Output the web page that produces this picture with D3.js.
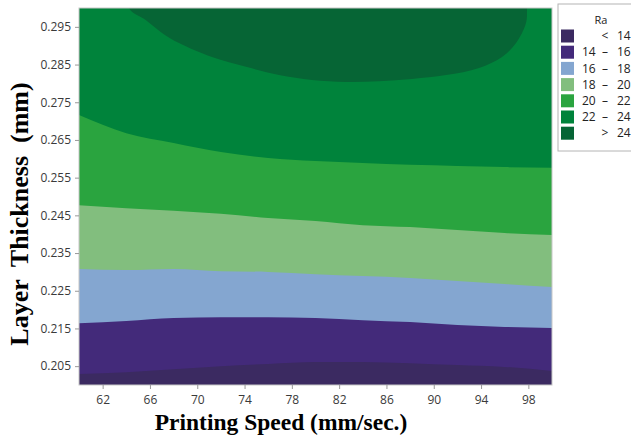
<!DOCTYPE html>
<html>
<head>
<meta charset="utf-8">
<script src="https://cdn.jsdelivr.net/npm/d3@7"></script>
<style>
  body { margin: 0; background: #fff; }
  .tick text { font-family: "Open Sans", "Noto Sans", sans-serif; font-size: 12px; fill: #3a3a3a; }
  .axis-title { font-family: "Liberation Serif", "Times New Roman", serif; font-weight: bold; fill: #000; white-space: pre; }
  .legend text { font-family: "Open Sans", "Noto Sans", sans-serif; font-size: 12px; fill: #222; }
</style>
</head>
<body>
<div id="chart"></div>
<script>
// Contour plot of Ra vs printing speed and layer thickness
// Boundaries: layer thickness of each contour level at the given speeds

let speeds = [60, 64, 68, 72, 76, 80, 84, 88, 92, 96, 100];

let level14 = [0.2029, 0.2034, 0.2042, 0.2050, 0.2056, 0.2061, 0.2061, 0.2058, 0.2053, 0.2048, 0.2037];
let level16 = [0.2164, 0.2170, 0.2178, 0.2180, 0.2180, 0.2178, 0.2172, 0.2167, 0.2159, 0.2154, 0.2151];
let level18 = [0.2308, 0.2305, 0.2308, 0.2302, 0.2300, 0.2294, 0.2289, 0.2284, 0.2276, 0.2268, 0.2260];
let level20 = [0.2477, 0.2469, 0.2462, 0.2454, 0.2443, 0.2435, 0.2424, 0.2419, 0.2411, 0.2403, 0.2398];
let level22 = [0.2716, 0.2668, 0.2642, 0.2618, 0.2602, 0.2594, 0.2589, 0.2584, 0.2581, 0.2578, 0.2576];

// the > 24 region is a closed lobe touching the top edge
let level24Speed = [64.23, 65.64, 67.02, 68.46, 71.25, 74.12, 76.91, 79.70, 82.58, 85.37, 88.16, 91.04, 93.83, 95.77, 96.96, 97.80, 97.89];
let level24Thick = [0.3000, 0.2968, 0.2934, 0.2907, 0.2870, 0.2844, 0.2822, 0.2809, 0.2804, 0.2806, 0.2812, 0.2822, 0.2841, 0.2870, 0.2907, 0.2960, 0.3000];

let legendLabels = [["", "<", "14"], ["14", "–", "16"], ["16", "–", "18"], ["18", "–", "20"],
                    ["20", "–", "22"], ["22", "–", "24"], ["", ">", "24"]];
let bandColors = ["#3b2a61", "#432a7a", "#84a6d0", "#82be7e", "#2aa43f", "#00833b", "#066535"];

let xTicks = [62, 66, 70, 74, 78, 82, 86, 90, 94, 98];
let yTicks = [0.205, 0.215, 0.225, 0.235, 0.245, 0.255, 0.265, 0.275, 0.285, 0.295];

////////////////////////////////////////////////////////////////////////
// Layout

let width = 631, height = 436;
let plotLeft = 79, plotRight = 552, plotTop = 8, plotBottom = 385;

let svg = d3.select("#chart")
  .append("svg")
  .attr("width", width)
  .attr("height", height);

let xScale = d3.scaleLinear().domain([60, 100]).range([plotLeft, plotRight]);
let yScale = d3.scaleLinear().domain([0.2, 0.3]).range([plotBottom, plotTop]);

svg.append("clipPath")
  .attr("id", "plot-clip")
  .append("rect")
  .attr("x", plotLeft).attr("y", plotTop)
  .attr("width", plotRight - plotLeft).attr("height", plotBottom - plotTop);

let plot = svg.append("g").attr("clip-path", "url(#plot-clip)");

// base band (< 14)
plot.append("rect")
  .attr("x", plotLeft).attr("y", plotTop)
  .attr("width", plotRight - plotLeft).attr("height", plotBottom - plotTop)
  .style("fill", bandColors[0]);

// each level: fill everything above the boundary with the next band's colour
let levels = [level14, level16, level18, level20, level22];

let area = d3.area()
  .x((d, i) => xScale(speeds[i]))
  .y0(yScale(0.3) - 2)
  .y1(d => yScale(d))
  .curve(d3.curveMonotoneX);

levels.forEach((lv, k) => {
  plot.append("path")
    .datum(lv)
    .attr("d", area)
    .style("fill", bandColors[k + 1]);
});

// top lobe (> 24)
let lobe = level24Speed.map((s, i) => [s, level24Thick[i]]);
lobe.push([level24Speed[level24Speed.length - 1], 0.31]);
lobe.push([level24Speed[0], 0.31]);

plot.append("path")
  .datum(lobe)
  .attr("d", d3.line()
    .x(d => xScale(d[0]))
    .y(d => yScale(d[1]))
    .curve(d3.curveCatmullRomClosed))
  .style("fill", bandColors[6]);

// thin frame
svg.append("rect")
  .attr("x", plotLeft).attr("y", plotTop)
  .attr("width", plotRight - plotLeft).attr("height", plotBottom - plotTop)
  .style("fill", "none")
  .style("stroke", "#c8c8c8")
  .style("stroke-width", 1);

////////////////////////////////////////////////////////////////////////
// Axes

let xAxis = svg.append("g")
  .attr("transform", `translate(0, ${plotBottom})`)
  .call(d3.axisBottom(xScale).tickValues(xTicks).tickSize(4).tickPadding(6));

let yAxis = svg.append("g")
  .attr("transform", `translate(${plotLeft}, 0)`)
  .call(d3.axisLeft(yScale).tickValues(yTicks).tickFormat(d3.format(".3f")).tickSize(4).tickPadding(4));

[xAxis, yAxis].forEach(ax => {
  ax.select(".domain").remove();
  ax.selectAll(".tick line").style("stroke", "#999");
});

svg.append("text")
  .attr("class", "axis-title")
  .attr("x", 281)
  .attr("y", 430)
  .attr("text-anchor", "middle")
  .style("font-size", "23.5px")
  .text("Printing Speed (mm/sec.)");

svg.append("text")
  .attr("class", "axis-title")
  .attr("transform", "translate(28, 214) rotate(-90)")
  .attr("text-anchor", "middle")
  .style("font-size", "26px")
  .text("Layer  Thickness  (mm)");

////////////////////////////////////////////////////////////////////////
// Legend

let legend = svg.append("g").attr("class", "legend");

legend.append("rect")
  .attr("x", 558).attr("y", 4)
  .attr("width", 90).attr("height", 147)
  .style("fill", "#fff")
  .style("stroke", "#b4b4b4");

legend.append("text")
  .attr("x", 601).attr("y", 24)
  .attr("text-anchor", "middle")
  .style("font-size", "11px")
  .text("Ra");

let rows = legend.selectAll("g.row")
  .data(legendLabels)
  .join("g")
  .attr("class", "row")
  .attr("transform", (d, i) => `translate(0, ${36 + i * 16.2})`);

rows.append("rect")
  .attr("x", 561).attr("y", -6.5)
  .attr("width", 13).attr("height", 13)
  .style("fill", (d, i) => bandColors[i]);

rows.append("text")
  .attr("x", 582).attr("dy", "0.35em")
  .text(d => d[0]);

rows.append("text")
  .attr("x", 605).attr("dy", "0.35em")
  .attr("text-anchor", "middle")
  .text(d => d[1]);

rows.append("text")
  .attr("x", 617).attr("dy", "0.35em")
  .text(d => d[2]);
</script>
</body>
</html>
